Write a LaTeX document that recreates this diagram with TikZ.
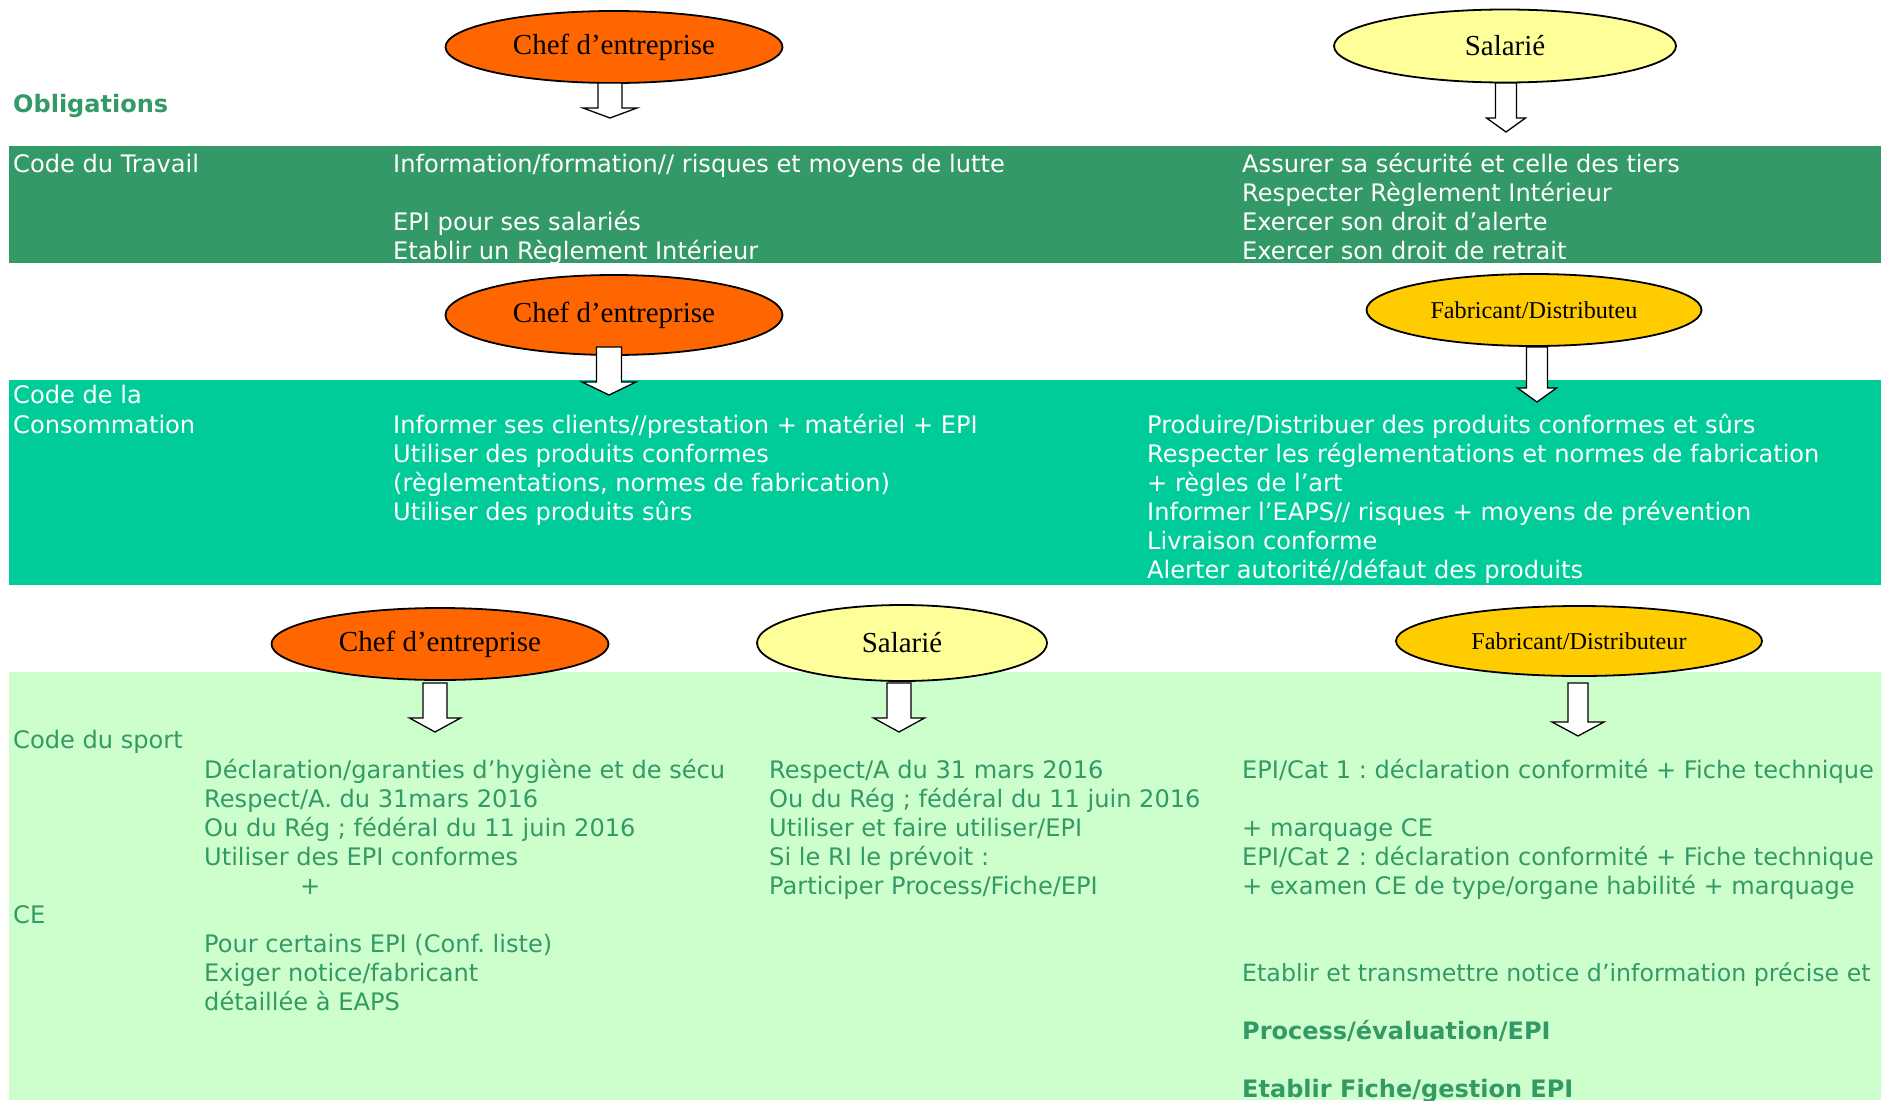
\documentclass[tikz,border=0pt]{standalone}
\usepackage{fontspec}
\setmainfont{DejaVu Sans}
\newfontfamily\serifel{Liberation Serif}
\usetikzlibrary{shapes.geometric}
\definecolor{dkgreen}{HTML}{339966}
\definecolor{tealband}{HTML}{00CC99}
\definecolor{ltgreen}{HTML}{CCFFCC}
\definecolor{orangeel}{HTML}{FF6600}
\definecolor{yellowel}{HTML}{FFFF99}
\definecolor{goldel}{HTML}{FFCC00}
\frenchspacing
\newcommand\blockarr[6]{%
  \draw[blockarrow] (#1-#5,#2) -- (#1+#5,#2) -- (#1+#5,#3) -- (#1+#6,#3) -- (#1,#4) -- (#1-#6,#3) -- (#1-#5,#3) -- cycle;}
\begin{document}
\begin{tikzpicture}[x=1pt,y=-1pt,
  every node/.style={inner sep=0pt},
  wt/.style={anchor=base west, text=white, font=\fontsize{24.1}{28}\selectfont},
  gt/.style={anchor=base west, text=dkgreen, font=\fontsize{24.1}{28}\selectfont},
  gtb/.style={anchor=base west, text=dkgreen, font=\fontsize{24}{28}\selectfont\bfseries},
  actor/.style={ellipse, draw=black, line width=1.8pt, font=\serifel\fontsize{29}{32}\selectfont},
  actorsm/.style={ellipse, draw=black, line width=1.8pt, font=\serifel\fontsize{24.2}{26}\selectfont},
  blockarrow/.style={draw=black, fill=white, line width=1.3pt, line join=miter}]
\clip (0,0) rectangle (1881,1100);
\fill[white] (0,0) rectangle (1881,1100);
% bands
\fill[dkgreen] (9,146) rectangle (1881,263);
\fill[tealband] (9,380) rectangle (1881,585);
\fill[ltgreen] (9,672) rectangle (1881,1100);

% title
\node[gtb] (obl) at (13,112) {Obligations};

% row 1
\node[wt] (ct) at (13,172) {Code du Travail};
\node[wt] (m1a) at (393,172) {Information/formation// risques et moyens de lutte};
\node[wt] (m1b) at (393,230) {EPI pour ses salariés};
\node[wt] (m1c) at (393,259) {Etablir un Règlement Intérieur};
\node[wt] (r1a) at (1242,172) {Assurer sa sécurité et celle des tiers};
\node[wt] (r1b) at (1242,201) {Respecter Règlement Intérieur};
\node[wt] (r1c) at (1242,230) {Exercer son droit d’alerte};
\node[wt] (r1d) at (1242,259) {Exercer son droit de retrait};

% row 2
\node[wt] (cc1) at (13,403) {Code de la};
\node[wt] (cc2) at (13,433) {Consommation};
\node[wt] (m2a) at (393,433) {Informer ses clients//prestation + matériel + EPI};
\node[wt] (m2b) at (393,462) {Utiliser des produits conformes};
\node[wt] (m2c) at (393,491) {(règlementations, normes de fabrication)};
\node[wt] (m2d) at (393,520) {Utiliser des produits sûrs};
\node[wt] (r2a) at (1147,433) {Produire/Distribuer des produits conformes et sûrs};
\node[wt] (r2b) at (1147,462) {Respecter les réglementations et normes de fabrication};
\node[wt] (r2c) at (1147,491) {+ règles de l’art};
\node[wt] (r2d) at (1147,520) {Informer l’EAPS// risques + moyens de prévention};
\node[wt] (r2e) at (1147,549) {Livraison conforme};
\node[wt] (r2f) at (1147,578) {Alerter autorité//défaut des produits};

% row 3
\node[gt] (cs) at (13,748) {Code du sport};
\node[gt] (ce) at (13,923) {CE};
\node[gt] (c1a) at (204,778) {Déclaration/garanties d’hygiène et de sécu};
\node[gt] (c1b) at (204,807) {Respect/A. du 31mars 2016};
\node[gt] (c1c) at (204,836) {Ou du Rég ; fédéral du 11 juin 2016};
\node[gt] (c1d) at (204,865) {Utiliser des EPI conformes};
\node[gt] (c1e) at (300,894) {+};
\node[gt] (c1f) at (204,952) {Pour certains EPI (Conf. liste)};
\node[gt] (c1g) at (204,981) {Exiger notice/fabricant};
\node[gt] (c1h) at (204,1010) {détaillée à EAPS};
\node[gt] (c2a) at (769,778) {Respect/A du 31 mars 2016};
\node[gt] (c2b) at (769,807) {Ou du Rég ; fédéral du 11 juin 2016};
\node[gt] (c2c) at (769,836) {Utiliser et faire utiliser/EPI};
\node[gt] (c2d) at (769,865) {Si le RI le prévoit :};
\node[gt] (c2e) at (769,894) {Participer Process/Fiche/EPI};
\node[gt] (c3a) at (1242,778) {EPI/Cat 1 : déclaration conformité + Fiche technique};
\node[gt] (c3b) at (1242,836) {+ marquage CE};
\node[gt] (c3c) at (1242,865) {EPI/Cat 2 : déclaration conformité + Fiche technique};
\node[gt] (c3d) at (1242,894) {+ examen CE de type/organe habilité + marquage};
\node[gt, font=\fontsize{23.7}{28}\selectfont] (c3e) at (1242,981) {Etablir et transmettre notice d’information précise et};
\node[gtb] (c3f) at (1242,1039) {Process/évaluation/EPI};
\node[gtb] (c3g) at (1242,1097) {Etablir Fiche/gestion EPI};

% ellipses
\node[actor, fill=orangeel, minimum width=337pt, minimum height=72pt] (e1) at (614,47) {Chef d’entreprise};
\node[actor, fill=yellowel, minimum width=342pt, minimum height=73pt] (e2) at (1505,46) {Salarié};
\node[actor, fill=orangeel, minimum width=337pt, minimum height=80pt] (e3) at (614,315) {Chef d’entreprise};
\node[actorsm, fill=goldel, minimum width=335pt, minimum height=72pt] (e4) at (1534,310) {Fabricant/Distributeu};
\node[actor, fill=orangeel, minimum width=337pt, minimum height=72pt] (e5) at (440,644) {Chef d’entreprise};
\node[actor, fill=yellowel, minimum width=290pt, minimum height=76pt] (e6) at (902,643) {Salarié};
\node[actorsm, fill=goldel, minimum width=366pt, minimum height=70pt] (e7) at (1579,641) {Fabricant/Distributeur};

% block arrows
\blockarr{610}{83}{108}{118}{12}{27}
\blockarr{1506}{83}{118}{132}{10.5}{19.5}
\blockarr{609}{347}{382}{395}{12.5}{27}
\blockarr{1537}{347}{388}{402}{10.5}{19.5}
\blockarr{435}{683}{718}{732}{12}{25.5}
\blockarr{899}{683}{718}{732}{12}{25.5}
\blockarr{1578}{683}{722}{736}{10}{26}
\end{tikzpicture}
\end{document}
